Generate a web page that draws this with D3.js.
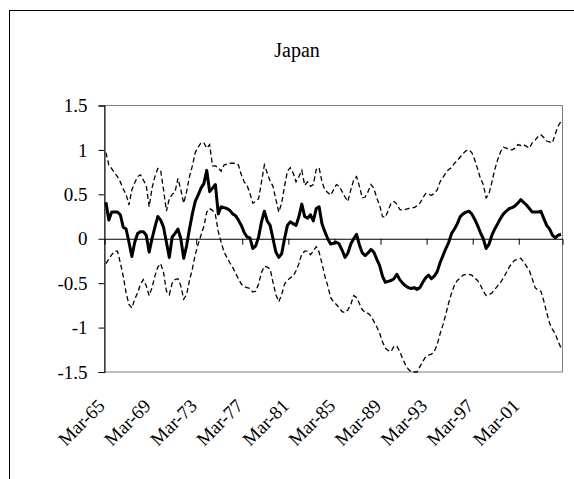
<!DOCTYPE html>
<html>
<head>
<meta charset="utf-8">
<script src="https://cdn.jsdelivr.net/npm/d3@7/dist/d3.min.js"></script>
<style>
  html, body { margin: 0; padding: 0; background: #fff; }
  svg { display: block; font-family: "Liberation Serif", "Times New Roman", serif; }
</style>
</head>
<body>
<div id="chart"></div>
<script>
// ---- data (quarterly, Mar-65 .. Sep-04) ----
const title = "Japan";
const startYear = 1965;
const tickLabels = ["Mar-65", "Mar-69", "Mar-73", "Mar-77", "Mar-81", "Mar-85", "Mar-89", "Mar-93", "Mar-97", "Mar-01"];
const yTicks = [-1.5, -1, -0.5, 0, 0.5, 1, 1.5];

const central = [
  0.41, 0.21, 0.30, 0.30, 0.30, 0.27, 0.13, 0.11, -0.04, -0.20,
  -0.04, 0.06, 0.08, 0.08, 0.04, -0.15, 0.00, 0.13, 0.25, 0.21,
  0.13, -0.04, -0.21, 0.02, 0.06, 0.11, 0.00, -0.22, -0.08, 0.11,
  0.28, 0.42, 0.49, 0.57, 0.62, 0.77, 0.53, 0.57, 0.61, 0.28,
  0.36, 0.35, 0.34, 0.32, 0.28, 0.26, 0.21, 0.15, 0.07, 0.02,
  0.01, -0.11, -0.08, 0.02, 0.19, 0.31, 0.20, 0.15, 0.00, -0.15,
  -0.21, -0.17, 0.00, 0.15, 0.19, 0.17, 0.15, 0.25, 0.39, 0.25,
  0.23, 0.27, 0.20, 0.34, 0.36, 0.17, 0.08, 0.00, -0.06, -0.05,
  -0.04, -0.06, -0.13, -0.21, -0.16, -0.06, 0.00, 0.05, -0.07, -0.16,
  -0.19, -0.16, -0.12, -0.15, -0.23, -0.30, -0.42, -0.49, -0.48, -0.47,
  -0.45, -0.40, -0.46, -0.50, -0.53, -0.55, -0.56, -0.55, -0.57, -0.55,
  -0.49, -0.44, -0.41, -0.45, -0.42, -0.37, -0.27, -0.19, -0.11, -0.04,
  0.06, 0.11, 0.17, 0.25, 0.28, 0.30, 0.31, 0.28, 0.22, 0.15,
  0.07, 0.00, -0.11, -0.06, 0.04, 0.11, 0.17, 0.23, 0.28, 0.31,
  0.34, 0.35, 0.37, 0.40, 0.44, 0.41, 0.38, 0.34, 0.30, 0.30,
  0.30, 0.31, 0.23, 0.15, 0.11, 0.04, 0.01, 0.04, 0.05
];

const upper = [
  0.97, 0.83, 0.79, 0.74, 0.70, 0.64, 0.56, 0.50, 0.38, 0.55,
  0.63, 0.70, 0.72, 0.66, 0.60, 0.36, 0.57, 0.70, 0.79, 0.77,
  0.55, 0.31, 0.45, 0.50, 0.53, 0.68, 0.55, 0.40, 0.53, 0.70,
  0.82, 0.97, 1.03, 1.08, 1.08, 1.02, 1.06, 0.82, 0.82, 0.80,
  0.76, 0.83, 0.84, 0.85, 0.85, 0.85, 0.83, 0.72, 0.64, 0.60,
  0.51, 0.40, 0.42, 0.45, 0.64, 0.83, 0.74, 0.65, 0.59, 0.44,
  0.30, 0.40, 0.59, 0.76, 0.80, 0.74, 0.64, 0.70, 0.77, 0.60,
  0.64, 0.59, 0.61, 0.78, 0.80, 0.64, 0.55, 0.52, 0.49, 0.55,
  0.61, 0.59, 0.53, 0.47, 0.42, 0.55, 0.66, 0.70, 0.59, 0.46,
  0.47, 0.53, 0.61, 0.57, 0.46, 0.38, 0.25, 0.24, 0.32, 0.40,
  0.42, 0.39, 0.33, 0.32, 0.33, 0.34, 0.35, 0.35, 0.37, 0.40,
  0.46, 0.51, 0.50, 0.49, 0.51, 0.55, 0.64, 0.69, 0.74, 0.78,
  0.80, 0.85, 0.88, 0.92, 0.96, 0.99, 1.00, 0.97, 0.89, 0.79,
  0.68, 0.61, 0.46, 0.51, 0.64, 0.78, 0.89, 0.98, 1.03, 1.02,
  1.00, 1.00, 1.02, 1.06, 1.05, 1.06, 1.04, 1.02, 1.08, 1.11,
  1.15, 1.17, 1.14, 1.10, 1.09, 1.08, 1.18, 1.27, 1.32
];

const lower = [
  -0.28, -0.23, -0.18, -0.14, -0.14, -0.27, -0.42, -0.61, -0.74, -0.78,
  -0.68, -0.61, -0.51, -0.46, -0.53, -0.64, -0.55, -0.42, -0.32, -0.28,
  -0.38, -0.59, -0.63, -0.50, -0.46, -0.45, -0.53, -0.68, -0.63, -0.47,
  -0.34, -0.18, -0.06, 0.04, 0.14, 0.30, 0.34, 0.32, 0.27, 0.08,
  -0.04, -0.15, -0.21, -0.27, -0.32, -0.39, -0.45, -0.51, -0.54, -0.55,
  -0.56, -0.60, -0.59, -0.51, -0.38, -0.31, -0.32, -0.34, -0.49, -0.63,
  -0.71, -0.63, -0.51, -0.47, -0.44, -0.42, -0.36, -0.28, -0.17, -0.14,
  -0.14, -0.18, -0.14, -0.09, -0.15, -0.28, -0.42, -0.53, -0.66, -0.71,
  -0.74, -0.78, -0.82, -0.83, -0.80, -0.74, -0.64, -0.66, -0.73, -0.80,
  -0.83, -0.84, -0.87, -0.93, -0.99, -1.06, -1.16, -1.23, -1.26, -1.27,
  -1.21, -1.21, -1.27, -1.35, -1.42, -1.47, -1.50, -1.50, -1.50, -1.44,
  -1.38, -1.33, -1.31, -1.30, -1.27, -1.19, -1.07, -0.97, -0.85, -0.72,
  -0.61, -0.52, -0.47, -0.44, -0.41, -0.40, -0.40, -0.41, -0.44, -0.47,
  -0.52, -0.59, -0.64, -0.63, -0.61, -0.57, -0.53, -0.49, -0.44, -0.38,
  -0.32, -0.27, -0.24, -0.23, -0.22, -0.26, -0.31, -0.36, -0.45, -0.55,
  -0.58, -0.59, -0.70, -0.83, -0.95, -1.02, -1.07, -1.16, -1.23
];

// quarter labels for each point
const months = ["Mar", "Jun", "Sep", "Dec"];
const categories = central.map((_, i) => {
  const yr = (startYear + Math.floor(i / 4)) % 100;
  return months[i % 4] + "-" + String(yr).padStart(2, "0");
});

// ---- layout ----
const W = 574, H = 479;
const plot = { left: 104.5, right: 562.5, top: 105.5, bottom: 372 };
const FONT = "Liberation Serif, Times New Roman, serif";

const svg = d3.select("#chart").append("svg")
  .attr("width", W)
  .attr("height", H);

// chart frame (runs off the right and bottom edges)
svg.append("rect")
  .attr("x", 9.5).attr("y", 10.5)
  .attr("width", W + 10).attr("height", H + 10)
  .attr("fill", "none")
  .attr("stroke", "#000")
  .attr("stroke-width", 1);

svg.append("text")
  .attr("x", 297).attr("y", 57)
  .attr("text-anchor", "middle")
  .attr("font-family", FONT)
  .attr("font-size", 20)
  .text(title);

const x = d3.scaleBand()
  .domain(categories)
  .range([plot.left, plot.right])
  .paddingInner(0).paddingOuter(0);
const xc = d => x(d) + x.bandwidth() / 2;

const y = d3.scaleLinear()
  .domain([-1.5, 1.5])
  .range([plot.bottom, plot.top]);

// plot area border
svg.append("rect")
  .attr("x", plot.left).attr("y", plot.top)
  .attr("width", plot.right - plot.left)
  .attr("height", plot.bottom - plot.top)
  .attr("fill", "none")
  .attr("stroke", "#808080")
  .attr("stroke-width", 1);

// y axis
const yAxis = svg.append("g")
  .attr("transform", `translate(${plot.left},0)`)
  .call(d3.axisLeft(y).tickValues(yTicks).tickSize(6).tickPadding(11)
    .tickFormat(d => String(d)));
yAxis.attr("font-family", FONT).attr("font-size", 19);
yAxis.select(".domain").attr("stroke", "#000");
yAxis.selectAll("text").attr("fill", "#000");

// zero line with category ticks
const tickIdx = d3.range(16, categories.length, 16);
const xAxis = svg.append("g")
  .attr("transform", `translate(0,${y(0)})`)
  .call(d3.axisBottom(x).tickValues(tickIdx.map(i => categories[i]))
    .tickSize(6).tickFormat(""));
xAxis.selectAll(".tick").attr("transform", d => `translate(${x(d)},0)`);
xAxis.select(".domain").attr("stroke", "#000");

// rotated category labels
svg.append("g")
  .attr("font-family", FONT)
  .attr("font-size", 19)
  .selectAll("text")
  .data(tickLabels)
  .join("text")
  .attr("text-anchor", "end")
  .attr("transform", d => `translate(${xc(d)},407) rotate(-45)`)
  .text(d => d);

// series
const line = d3.line()
  .x((d, i) => xc(categories[i]))
  .y(d => y(d));

svg.append("path")
  .datum(upper)
  .attr("d", line)
  .attr("fill", "none")
  .attr("stroke", "#000")
  .attr("stroke-width", 1.3)
  .attr("stroke-dasharray", "5,3");

svg.append("path")
  .datum(lower)
  .attr("d", line)
  .attr("fill", "none")
  .attr("stroke", "#000")
  .attr("stroke-width", 1.3)
  .attr("stroke-dasharray", "5,3");

svg.append("path")
  .datum(central)
  .attr("d", line)
  .attr("fill", "none")
  .attr("stroke", "#000")
  .attr("stroke-width", 3)
  .attr("stroke-linejoin", "round");
</script>
</body>
</html>
